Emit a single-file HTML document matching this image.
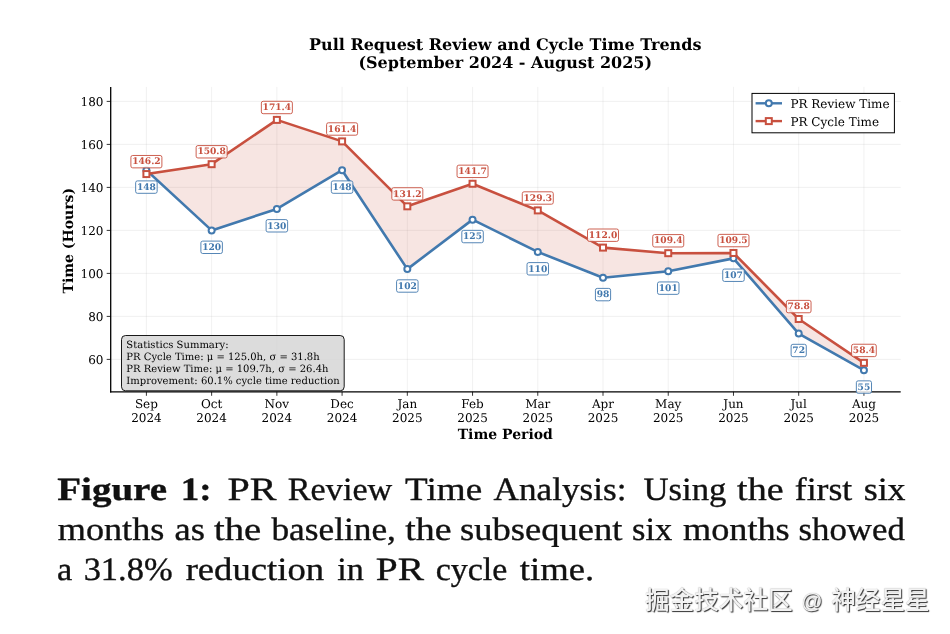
<!DOCTYPE html>
<html lang="en"><head><meta charset="utf-8"><title>Figure 1: PR Review Time Analysis</title>
<style>
html,body{margin:0;padding:0;background:#fff}
body{width:950px;height:634px;position:relative;overflow:hidden}
.wm{position:absolute;left:645px;top:585px;font-family:"Liberation Sans","Noto Sans CJK SC",sans-serif;font-size:24.6px;font-weight:500;line-height:32px;color:#f2f2f2;text-shadow:1px 1px 1px rgba(0,0,0,.8),0 0 1px rgba(0,0,0,.35);white-space:nowrap}
.wm .at{display:inline-block;width:25px;text-align:center;font-size:21px;line-height:1;vertical-align:1px}
</style></head><body>
<svg width="950" height="634" viewBox="0 0 950 634" style="position:absolute;left:0;top:0" font-family="'DejaVu Serif', serif" text-rendering="geometricPrecision">
<line x1="146.40" y1="86.9" x2="146.40" y2="391.8" stroke="#b0b0b0" stroke-opacity="0.3" stroke-width="0.6"/>
<line x1="211.63" y1="86.9" x2="211.63" y2="391.8" stroke="#b0b0b0" stroke-opacity="0.3" stroke-width="0.6"/>
<line x1="276.86" y1="86.9" x2="276.86" y2="391.8" stroke="#b0b0b0" stroke-opacity="0.3" stroke-width="0.6"/>
<line x1="342.09" y1="86.9" x2="342.09" y2="391.8" stroke="#b0b0b0" stroke-opacity="0.3" stroke-width="0.6"/>
<line x1="407.32" y1="86.9" x2="407.32" y2="391.8" stroke="#b0b0b0" stroke-opacity="0.3" stroke-width="0.6"/>
<line x1="472.55" y1="86.9" x2="472.55" y2="391.8" stroke="#b0b0b0" stroke-opacity="0.3" stroke-width="0.6"/>
<line x1="537.78" y1="86.9" x2="537.78" y2="391.8" stroke="#b0b0b0" stroke-opacity="0.3" stroke-width="0.6"/>
<line x1="603.01" y1="86.9" x2="603.01" y2="391.8" stroke="#b0b0b0" stroke-opacity="0.3" stroke-width="0.6"/>
<line x1="668.24" y1="86.9" x2="668.24" y2="391.8" stroke="#b0b0b0" stroke-opacity="0.3" stroke-width="0.6"/>
<line x1="733.47" y1="86.9" x2="733.47" y2="391.8" stroke="#b0b0b0" stroke-opacity="0.3" stroke-width="0.6"/>
<line x1="798.70" y1="86.9" x2="798.70" y2="391.8" stroke="#b0b0b0" stroke-opacity="0.3" stroke-width="0.6"/>
<line x1="863.93" y1="86.9" x2="863.93" y2="391.8" stroke="#b0b0b0" stroke-opacity="0.3" stroke-width="0.6"/>
<line x1="110.7" y1="359.40" x2="900.7" y2="359.40" stroke="#b0b0b0" stroke-opacity="0.3" stroke-width="0.6"/>
<line x1="110.7" y1="316.40" x2="900.7" y2="316.40" stroke="#b0b0b0" stroke-opacity="0.3" stroke-width="0.6"/>
<line x1="110.7" y1="273.40" x2="900.7" y2="273.40" stroke="#b0b0b0" stroke-opacity="0.3" stroke-width="0.6"/>
<line x1="110.7" y1="230.40" x2="900.7" y2="230.40" stroke="#b0b0b0" stroke-opacity="0.3" stroke-width="0.6"/>
<line x1="110.7" y1="187.40" x2="900.7" y2="187.40" stroke="#b0b0b0" stroke-opacity="0.3" stroke-width="0.6"/>
<line x1="110.7" y1="144.40" x2="900.7" y2="144.40" stroke="#b0b0b0" stroke-opacity="0.3" stroke-width="0.6"/>
<line x1="110.7" y1="101.40" x2="900.7" y2="101.40" stroke="#b0b0b0" stroke-opacity="0.3" stroke-width="0.6"/>
<polygon points="146.40,174.07 211.63,164.18 276.86,119.89 342.09,141.39 407.32,206.32 472.55,183.75 537.78,210.40 603.01,247.60 668.24,253.19 733.47,252.97 798.70,318.98 863.93,362.84 863.93,370.15 798.70,333.60 733.47,258.35 668.24,271.25 603.01,277.70 537.78,251.90 472.55,219.65 407.32,269.10 342.09,170.20 276.86,208.90 211.63,230.40 146.40,170.20" fill="#c8503f" fill-opacity="0.15"/>
<polyline points="146.40,170.20 211.63,230.40 276.86,208.90 342.09,170.20 407.32,269.10 472.55,219.65 537.78,251.90 603.01,277.70 668.24,271.25 733.47,258.35 798.70,333.60 863.93,370.15" fill="none" stroke="#4279ae" stroke-width="2.6" stroke-linejoin="round" stroke-linecap="square"/>
<circle cx="146.40" cy="170.20" r="3" fill="#fff" stroke="#4279ae" stroke-width="2"/>
<circle cx="211.63" cy="230.40" r="3" fill="#fff" stroke="#4279ae" stroke-width="2"/>
<circle cx="276.86" cy="208.90" r="3" fill="#fff" stroke="#4279ae" stroke-width="2"/>
<circle cx="342.09" cy="170.20" r="3" fill="#fff" stroke="#4279ae" stroke-width="2"/>
<circle cx="407.32" cy="269.10" r="3" fill="#fff" stroke="#4279ae" stroke-width="2"/>
<circle cx="472.55" cy="219.65" r="3" fill="#fff" stroke="#4279ae" stroke-width="2"/>
<circle cx="537.78" cy="251.90" r="3" fill="#fff" stroke="#4279ae" stroke-width="2"/>
<circle cx="603.01" cy="277.70" r="3" fill="#fff" stroke="#4279ae" stroke-width="2"/>
<circle cx="668.24" cy="271.25" r="3" fill="#fff" stroke="#4279ae" stroke-width="2"/>
<circle cx="733.47" cy="258.35" r="3" fill="#fff" stroke="#4279ae" stroke-width="2"/>
<circle cx="798.70" cy="333.60" r="3" fill="#fff" stroke="#4279ae" stroke-width="2"/>
<circle cx="863.93" cy="370.15" r="3" fill="#fff" stroke="#4279ae" stroke-width="2"/>
<polyline points="146.40,174.07 211.63,164.18 276.86,119.89 342.09,141.39 407.32,206.32 472.55,183.75 537.78,210.40 603.01,247.60 668.24,253.19 733.47,252.97 798.70,318.98 863.93,362.84" fill="none" stroke="#c8503f" stroke-width="2.6" stroke-linejoin="round" stroke-linecap="square"/>
<rect x="143.40" y="171.07" width="6" height="6" fill="#fff" stroke="#c8503f" stroke-width="2"/>
<rect x="208.63" y="161.18" width="6" height="6" fill="#fff" stroke="#c8503f" stroke-width="2"/>
<rect x="273.86" y="116.89" width="6" height="6" fill="#fff" stroke="#c8503f" stroke-width="2"/>
<rect x="339.09" y="138.39" width="6" height="6" fill="#fff" stroke="#c8503f" stroke-width="2"/>
<rect x="404.32" y="203.32" width="6" height="6" fill="#fff" stroke="#c8503f" stroke-width="2"/>
<rect x="469.55" y="180.75" width="6" height="6" fill="#fff" stroke="#c8503f" stroke-width="2"/>
<rect x="534.78" y="207.40" width="6" height="6" fill="#fff" stroke="#c8503f" stroke-width="2"/>
<rect x="600.01" y="244.60" width="6" height="6" fill="#fff" stroke="#c8503f" stroke-width="2"/>
<rect x="665.24" y="250.19" width="6" height="6" fill="#fff" stroke="#c8503f" stroke-width="2"/>
<rect x="730.47" y="249.97" width="6" height="6" fill="#fff" stroke="#c8503f" stroke-width="2"/>
<rect x="795.70" y="315.98" width="6" height="6" fill="#fff" stroke="#c8503f" stroke-width="2"/>
<rect x="860.93" y="359.84" width="6" height="6" fill="#fff" stroke="#c8503f" stroke-width="2"/>
<line x1="110.7" y1="86.9" x2="110.7" y2="392.45" stroke="#000" stroke-width="1.3"/>
<line x1="110.05" y1="391.8" x2="900.7" y2="391.8" stroke="#000" stroke-width="1.3"/>
<line x1="146.40" y1="391.8" x2="146.40" y2="395.8" stroke="#000" stroke-width="0.8"/>
<text x="146.40" y="408.0" font-size="12" text-anchor="middle">Sep</text>
<text x="146.40" y="422.0" font-size="12" text-anchor="middle">2024</text>
<line x1="211.63" y1="391.8" x2="211.63" y2="395.8" stroke="#000" stroke-width="0.8"/>
<text x="211.63" y="408.0" font-size="12" text-anchor="middle">Oct</text>
<text x="211.63" y="422.0" font-size="12" text-anchor="middle">2024</text>
<line x1="276.86" y1="391.8" x2="276.86" y2="395.8" stroke="#000" stroke-width="0.8"/>
<text x="276.86" y="408.0" font-size="12" text-anchor="middle">Nov</text>
<text x="276.86" y="422.0" font-size="12" text-anchor="middle">2024</text>
<line x1="342.09" y1="391.8" x2="342.09" y2="395.8" stroke="#000" stroke-width="0.8"/>
<text x="342.09" y="408.0" font-size="12" text-anchor="middle">Dec</text>
<text x="342.09" y="422.0" font-size="12" text-anchor="middle">2024</text>
<line x1="407.32" y1="391.8" x2="407.32" y2="395.8" stroke="#000" stroke-width="0.8"/>
<text x="407.32" y="408.0" font-size="12" text-anchor="middle">Jan</text>
<text x="407.32" y="422.0" font-size="12" text-anchor="middle">2025</text>
<line x1="472.55" y1="391.8" x2="472.55" y2="395.8" stroke="#000" stroke-width="0.8"/>
<text x="472.55" y="408.0" font-size="12" text-anchor="middle">Feb</text>
<text x="472.55" y="422.0" font-size="12" text-anchor="middle">2025</text>
<line x1="537.78" y1="391.8" x2="537.78" y2="395.8" stroke="#000" stroke-width="0.8"/>
<text x="537.78" y="408.0" font-size="12" text-anchor="middle">Mar</text>
<text x="537.78" y="422.0" font-size="12" text-anchor="middle">2025</text>
<line x1="603.01" y1="391.8" x2="603.01" y2="395.8" stroke="#000" stroke-width="0.8"/>
<text x="603.01" y="408.0" font-size="12" text-anchor="middle">Apr</text>
<text x="603.01" y="422.0" font-size="12" text-anchor="middle">2025</text>
<line x1="668.24" y1="391.8" x2="668.24" y2="395.8" stroke="#000" stroke-width="0.8"/>
<text x="668.24" y="408.0" font-size="12" text-anchor="middle">May</text>
<text x="668.24" y="422.0" font-size="12" text-anchor="middle">2025</text>
<line x1="733.47" y1="391.8" x2="733.47" y2="395.8" stroke="#000" stroke-width="0.8"/>
<text x="733.47" y="408.0" font-size="12" text-anchor="middle">Jun</text>
<text x="733.47" y="422.0" font-size="12" text-anchor="middle">2025</text>
<line x1="798.70" y1="391.8" x2="798.70" y2="395.8" stroke="#000" stroke-width="0.8"/>
<text x="798.70" y="408.0" font-size="12" text-anchor="middle">Jul</text>
<text x="798.70" y="422.0" font-size="12" text-anchor="middle">2025</text>
<line x1="863.93" y1="391.8" x2="863.93" y2="395.8" stroke="#000" stroke-width="0.8"/>
<text x="863.93" y="408.0" font-size="12" text-anchor="middle">Aug</text>
<text x="863.93" y="422.0" font-size="12" text-anchor="middle">2025</text>
<line x1="106.7" y1="359.40" x2="110.7" y2="359.40" stroke="#000" stroke-width="0.8"/>
<text x="103.5" y="364.10" font-size="12" text-anchor="end">60</text>
<line x1="106.7" y1="316.40" x2="110.7" y2="316.40" stroke="#000" stroke-width="0.8"/>
<text x="103.5" y="321.10" font-size="12" text-anchor="end">80</text>
<line x1="106.7" y1="273.40" x2="110.7" y2="273.40" stroke="#000" stroke-width="0.8"/>
<text x="103.5" y="278.10" font-size="12" text-anchor="end">100</text>
<line x1="106.7" y1="230.40" x2="110.7" y2="230.40" stroke="#000" stroke-width="0.8"/>
<text x="103.5" y="235.10" font-size="12" text-anchor="end">120</text>
<line x1="106.7" y1="187.40" x2="110.7" y2="187.40" stroke="#000" stroke-width="0.8"/>
<text x="103.5" y="192.10" font-size="12" text-anchor="end">140</text>
<line x1="106.7" y1="144.40" x2="110.7" y2="144.40" stroke="#000" stroke-width="0.8"/>
<text x="103.5" y="149.10" font-size="12" text-anchor="end">160</text>
<line x1="106.7" y1="101.40" x2="110.7" y2="101.40" stroke="#000" stroke-width="0.8"/>
<text x="103.5" y="106.10" font-size="12" text-anchor="end">180</text>
<rect x="130.90" y="155.47" width="31.00" height="12.4" rx="1.8" fill="#fff" fill-opacity="0.85" stroke="#c8503f" stroke-opacity="0.9" stroke-width="1"/>
<text x="146.40" y="164.37" font-size="9.1" font-weight="bold" fill="#c8503f" text-anchor="middle">146.2</text>
<rect x="196.13" y="145.58" width="31.00" height="12.4" rx="1.8" fill="#fff" fill-opacity="0.85" stroke="#c8503f" stroke-opacity="0.9" stroke-width="1"/>
<text x="211.63" y="154.48" font-size="9.1" font-weight="bold" fill="#c8503f" text-anchor="middle">150.8</text>
<rect x="261.36" y="101.29" width="31.00" height="12.4" rx="1.8" fill="#fff" fill-opacity="0.85" stroke="#c8503f" stroke-opacity="0.9" stroke-width="1"/>
<text x="276.86" y="110.19" font-size="9.1" font-weight="bold" fill="#c8503f" text-anchor="middle">171.4</text>
<rect x="326.59" y="122.79" width="31.00" height="12.4" rx="1.8" fill="#fff" fill-opacity="0.85" stroke="#c8503f" stroke-opacity="0.9" stroke-width="1"/>
<text x="342.09" y="131.69" font-size="9.1" font-weight="bold" fill="#c8503f" text-anchor="middle">161.4</text>
<rect x="391.82" y="187.72" width="31.00" height="12.4" rx="1.8" fill="#fff" fill-opacity="0.85" stroke="#c8503f" stroke-opacity="0.9" stroke-width="1"/>
<text x="407.32" y="196.62" font-size="9.1" font-weight="bold" fill="#c8503f" text-anchor="middle">131.2</text>
<rect x="457.05" y="165.15" width="31.00" height="12.4" rx="1.8" fill="#fff" fill-opacity="0.85" stroke="#c8503f" stroke-opacity="0.9" stroke-width="1"/>
<text x="472.55" y="174.04" font-size="9.1" font-weight="bold" fill="#c8503f" text-anchor="middle">141.7</text>
<rect x="522.28" y="191.80" width="31.00" height="12.4" rx="1.8" fill="#fff" fill-opacity="0.85" stroke="#c8503f" stroke-opacity="0.9" stroke-width="1"/>
<text x="537.78" y="200.70" font-size="9.1" font-weight="bold" fill="#c8503f" text-anchor="middle">129.3</text>
<rect x="587.51" y="229.00" width="31.00" height="12.4" rx="1.8" fill="#fff" fill-opacity="0.85" stroke="#c8503f" stroke-opacity="0.9" stroke-width="1"/>
<text x="603.01" y="237.90" font-size="9.1" font-weight="bold" fill="#c8503f" text-anchor="middle">112.0</text>
<rect x="652.74" y="234.59" width="31.00" height="12.4" rx="1.8" fill="#fff" fill-opacity="0.85" stroke="#c8503f" stroke-opacity="0.9" stroke-width="1"/>
<text x="668.24" y="243.49" font-size="9.1" font-weight="bold" fill="#c8503f" text-anchor="middle">109.4</text>
<rect x="717.97" y="234.37" width="31.00" height="12.4" rx="1.8" fill="#fff" fill-opacity="0.85" stroke="#c8503f" stroke-opacity="0.9" stroke-width="1"/>
<text x="733.47" y="243.27" font-size="9.1" font-weight="bold" fill="#c8503f" text-anchor="middle">109.5</text>
<rect x="786.37" y="300.38" width="24.67" height="12.4" rx="1.8" fill="#fff" fill-opacity="0.85" stroke="#c8503f" stroke-opacity="0.9" stroke-width="1"/>
<text x="798.70" y="309.28" font-size="9.1" font-weight="bold" fill="#c8503f" text-anchor="middle">78.8</text>
<rect x="851.60" y="344.24" width="24.67" height="12.4" rx="1.8" fill="#fff" fill-opacity="0.85" stroke="#c8503f" stroke-opacity="0.9" stroke-width="1"/>
<text x="863.93" y="353.14" font-size="9.1" font-weight="bold" fill="#c8503f" text-anchor="middle">58.4</text>
<rect x="135.65" y="180.90" width="21.50" height="12.4" rx="1.8" fill="#fff" fill-opacity="0.85" stroke="#4279ae" stroke-opacity="0.9" stroke-width="1"/>
<text x="146.40" y="189.80" font-size="9.1" font-weight="bold" fill="#4279ae" text-anchor="middle">148</text>
<rect x="200.88" y="241.10" width="21.50" height="12.4" rx="1.8" fill="#fff" fill-opacity="0.85" stroke="#4279ae" stroke-opacity="0.9" stroke-width="1"/>
<text x="211.63" y="250.00" font-size="9.1" font-weight="bold" fill="#4279ae" text-anchor="middle">120</text>
<rect x="266.11" y="219.60" width="21.50" height="12.4" rx="1.8" fill="#fff" fill-opacity="0.85" stroke="#4279ae" stroke-opacity="0.9" stroke-width="1"/>
<text x="276.86" y="228.50" font-size="9.1" font-weight="bold" fill="#4279ae" text-anchor="middle">130</text>
<rect x="331.34" y="180.90" width="21.50" height="12.4" rx="1.8" fill="#fff" fill-opacity="0.85" stroke="#4279ae" stroke-opacity="0.9" stroke-width="1"/>
<text x="342.09" y="189.80" font-size="9.1" font-weight="bold" fill="#4279ae" text-anchor="middle">148</text>
<rect x="396.57" y="279.80" width="21.50" height="12.4" rx="1.8" fill="#fff" fill-opacity="0.85" stroke="#4279ae" stroke-opacity="0.9" stroke-width="1"/>
<text x="407.32" y="288.70" font-size="9.1" font-weight="bold" fill="#4279ae" text-anchor="middle">102</text>
<rect x="461.80" y="230.35" width="21.50" height="12.4" rx="1.8" fill="#fff" fill-opacity="0.85" stroke="#4279ae" stroke-opacity="0.9" stroke-width="1"/>
<text x="472.55" y="239.25" font-size="9.1" font-weight="bold" fill="#4279ae" text-anchor="middle">125</text>
<rect x="527.03" y="262.60" width="21.50" height="12.4" rx="1.8" fill="#fff" fill-opacity="0.85" stroke="#4279ae" stroke-opacity="0.9" stroke-width="1"/>
<text x="537.78" y="271.50" font-size="9.1" font-weight="bold" fill="#4279ae" text-anchor="middle">110</text>
<rect x="595.43" y="288.40" width="15.17" height="12.4" rx="1.8" fill="#fff" fill-opacity="0.85" stroke="#4279ae" stroke-opacity="0.9" stroke-width="1"/>
<text x="603.01" y="297.30" font-size="9.1" font-weight="bold" fill="#4279ae" text-anchor="middle">98</text>
<rect x="657.49" y="281.95" width="21.50" height="12.4" rx="1.8" fill="#fff" fill-opacity="0.85" stroke="#4279ae" stroke-opacity="0.9" stroke-width="1"/>
<text x="668.24" y="290.85" font-size="9.1" font-weight="bold" fill="#4279ae" text-anchor="middle">101</text>
<rect x="722.72" y="269.05" width="21.50" height="12.4" rx="1.8" fill="#fff" fill-opacity="0.85" stroke="#4279ae" stroke-opacity="0.9" stroke-width="1"/>
<text x="733.47" y="277.95" font-size="9.1" font-weight="bold" fill="#4279ae" text-anchor="middle">107</text>
<rect x="791.12" y="344.30" width="15.17" height="12.4" rx="1.8" fill="#fff" fill-opacity="0.85" stroke="#4279ae" stroke-opacity="0.9" stroke-width="1"/>
<text x="798.70" y="353.20" font-size="9.1" font-weight="bold" fill="#4279ae" text-anchor="middle">72</text>
<rect x="856.35" y="380.85" width="15.17" height="12.4" rx="1.8" fill="#fff" fill-opacity="0.85" stroke="#4279ae" stroke-opacity="0.9" stroke-width="1"/>
<text x="863.93" y="389.75" font-size="9.1" font-weight="bold" fill="#4279ae" text-anchor="middle">55</text>
<rect x="121.5" y="335.5" width="222.7" height="55.3" rx="4" fill="#d3d3d3" fill-opacity="0.8" stroke="#000" stroke-width="0.9"/>
<text x="126.3" y="348.40" font-size="10">Statistics Summary:</text>
<text x="126.3" y="360.15" font-size="10">PR Cycle Time: μ = 125.0h, σ = 31.8h</text>
<text x="126.3" y="371.90" font-size="10">PR Review Time: μ = 109.7h, σ = 26.4h</text>
<text x="126.3" y="383.65" font-size="10">Improvement: 60.1% cycle time reduction</text>
<rect x="752.0" y="93.4" width="142.4" height="39.4" fill="#fff" fill-opacity="0.9" stroke="#000" stroke-width="1"/>
<line x1="756.8" y1="103.3" x2="780.8" y2="103.3" stroke="#4279ae" stroke-width="2.4" stroke-linecap="square"/>
<circle cx="768.8" cy="103.3" r="3" fill="#fff" stroke="#4279ae" stroke-width="2"/>
<text x="790.4" y="107.9" font-size="12">PR Review Time</text>
<line x1="756.8" y1="121.1" x2="780.8" y2="121.1" stroke="#c8503f" stroke-width="2.4" stroke-linecap="square"/>
<rect x="765.8" y="118.1" width="6" height="6" fill="#fff" stroke="#c8503f" stroke-width="2"/>
<text x="790.4" y="125.8" font-size="12">PR Cycle Time</text>
<text x="505.2" y="49.5" font-size="16" font-weight="bold" text-anchor="middle">Pull Request Review and Cycle Time Trends</text>
<text x="505.2" y="68.0" font-size="16" font-weight="bold" text-anchor="middle">(September 2024 - August 2025)</text>
<text x="505.3" y="438.8" font-size="14" font-weight="bold" text-anchor="middle">Time Period</text>
<text transform="translate(73.4,240.7) rotate(-90)" font-size="14" font-weight="bold" text-anchor="middle">Time (Hours)</text>
<text y="499.8" font-family="'Liberation Serif', serif" font-size="32.5" fill="#111" stroke="#111" stroke-width="0.35"><tspan x="57.28" textLength="109.78" lengthAdjust="spacingAndGlyphs" font-weight="bold">Figure</tspan> <tspan x="180.82" textLength="30.84" lengthAdjust="spacingAndGlyphs" font-weight="bold">1:</tspan> <tspan x="227.52" textLength="49.04" lengthAdjust="spacingAndGlyphs">PR</tspan> <tspan x="287.80" textLength="104.46" lengthAdjust="spacingAndGlyphs">Review</tspan> <tspan x="405.06" textLength="77.08" lengthAdjust="spacingAndGlyphs">Time</tspan> <tspan x="493.62" textLength="132.84" lengthAdjust="spacingAndGlyphs">Analysis:</tspan> <tspan x="643.46" textLength="82.90" lengthAdjust="spacingAndGlyphs">Using</tspan> <tspan x="737.10" textLength="46.48" lengthAdjust="spacingAndGlyphs">the</tspan> <tspan x="794.74" textLength="57.54" lengthAdjust="spacingAndGlyphs">first</tspan> <tspan x="863.66" textLength="41.92" lengthAdjust="spacingAndGlyphs">six</tspan></text>
<text y="539.8" font-family="'Liberation Serif', serif" font-size="32.5" fill="#111" stroke="#111" stroke-width="0.35"><tspan x="57.82" textLength="106.54" lengthAdjust="spacingAndGlyphs">months</tspan> <tspan x="174.52" textLength="30.42" lengthAdjust="spacingAndGlyphs">as</tspan> <tspan x="213.96" textLength="47.34" lengthAdjust="spacingAndGlyphs">the</tspan> <tspan x="271.40" textLength="124.56" lengthAdjust="spacingAndGlyphs">baseline,</tspan> <tspan x="405.22" textLength="46.30" lengthAdjust="spacingAndGlyphs">the</tspan> <tspan x="460.08" textLength="162.42" lengthAdjust="spacingAndGlyphs">subsequent</tspan> <tspan x="632.12" textLength="40.20" lengthAdjust="spacingAndGlyphs">six</tspan> <tspan x="682.96" textLength="106.76" lengthAdjust="spacingAndGlyphs">months</tspan> <tspan x="798.52" textLength="106.30" lengthAdjust="spacingAndGlyphs">showed</tspan></text>
<text y="579.7" font-family="'Liberation Serif', serif" font-size="32.5" fill="#111" stroke="#111" stroke-width="0.35"><tspan x="57.02" textLength="15.26" lengthAdjust="spacingAndGlyphs">a</tspan> <tspan x="83.66" textLength="88.92" lengthAdjust="spacingAndGlyphs">31.8%</tspan> <tspan x="185.66" textLength="138.36" lengthAdjust="spacingAndGlyphs">reduction</tspan> <tspan x="337.32" textLength="26.54" lengthAdjust="spacingAndGlyphs">in</tspan> <tspan x="375.74" textLength="48.24" lengthAdjust="spacingAndGlyphs">PR</tspan> <tspan x="435.74" textLength="71.62" lengthAdjust="spacingAndGlyphs">cycle</tspan> <tspan x="519.84" textLength="74.32" lengthAdjust="spacingAndGlyphs">time.</tspan></text>
</svg>
<div class="wm">掘金技术社区 <span class="at">@</span> 神经星星</div>
</body></html>
